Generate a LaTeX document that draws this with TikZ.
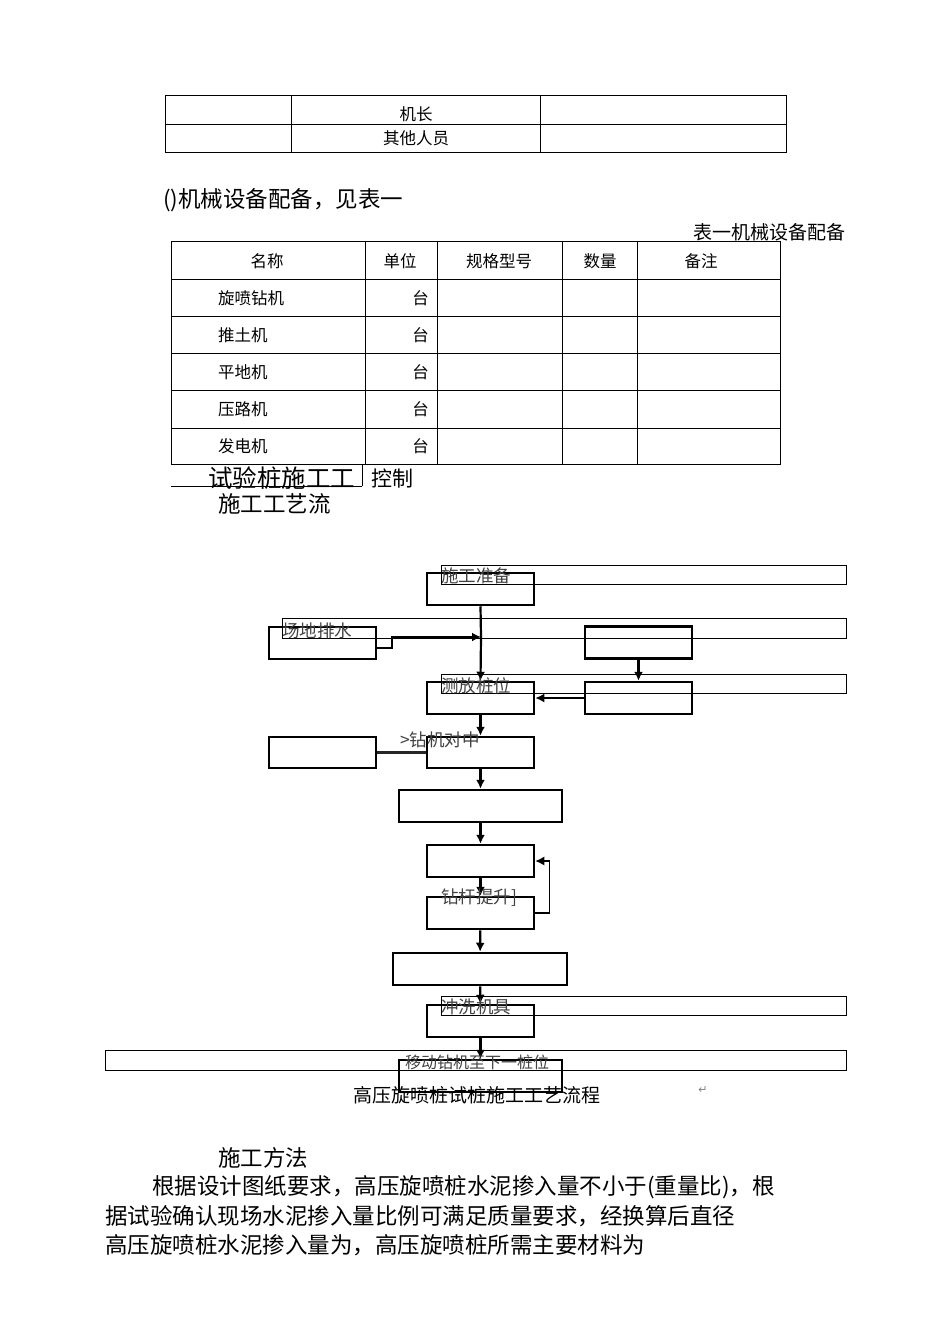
\documentclass[tikz,border=0pt]{standalone}
\usepackage{fontspec}
\usetikzlibrary{arrows.meta}
\setmainfont{Noto Sans CJK SC}
\newfontfamily\dv{DejaVu Sans}
\begin{document}
\begin{tikzpicture}[x=1pt,y=-1pt,
  tb/.style={font=\fontsize{16.5}{16.5}\selectfont,inner sep=0pt},
  big/.style={font=\fontsize{22.5}{22.5}\selectfont,inner sep=0pt,anchor=west},
  fbox/.style={draw,line width=2.5pt,inner sep=0pt},
  ov/.style={draw,line width=1pt,inner sep=0pt},
  lab/.style={font=\fontsize{17.5}{17.5}\selectfont,inner sep=0pt,anchor=west,text=black!75},
  arr/.style={-{Latex[length=9pt,width=9pt]},line width=2.2pt},
  ln/.style={line width=2.2pt}]
\useasboundingbox (0,0) rectangle (950,1344);
% top table
\draw[line width=0.8pt] (165,95) rectangle (786,152) (165,124)--(786,124) (291,95)--(291,152) (540,95)--(540,152);
\node[tb] (t1) at (416,114) {机长};
\node[tb] (t2) at (416,138) {其他人员};
\node[big] (h1) at (163,200) {()机械设备配备，见表一};
\node[tb,anchor=east,font=\fontsize{19}{19}\selectfont] (cap1) at (846,232) {表一机械设备配备};
% table 2
\draw[line width=0.8pt] (171,241) rectangle (780,464);
\foreach \y in {279,316,353,390,428} \draw[line width=0.8pt] (171,\y)--(780,\y);
\foreach \x in {365,437,562,637} \draw[line width=0.8pt] (\x,241)--(\x,464);
\node[tb] (c1) at (267,261) {名称};
\node[tb] (c2) at (400,261) {单位};
\node[tb] (c3) at (499,261) {规格型号};
\node[tb] (c4) at (600,261) {数量};
\node[tb] (c5) at (701,261) {备注};
\foreach \t/\y [count=\i] in {旋喷钻机/298,推土机/335,平地机/372,压路机/409,发电机/446}{
  \node[tb,anchor=west] (r\i) at (218,\y) {\t};
  \node[tb,anchor=east] (u\i) at (429,\y) {台};}
\draw[line width=0.8pt] (171,486)--(362,486) (362,464)--(362,486);
\node[big,font=\fontsize{24.5}{24.5}\selectfont] (s1) at (208,478) {试验桩施工工};
\node[big,font=\fontsize{21}{21}\selectfont] (s2) at (371,478) {控制};
\node[big] (s3) at (218,504) {施工工艺流};
% flowchart boxes
\node[fbox,minimum width=107pt,minimum height=32pt] (b1) at (480.5,589) {};
\node[fbox,minimum width=107pt,minimum height=32pt] (lb1) at (322.5,643) {};
\node[fbox,minimum width=107pt,minimum height=32pt] (rb1) at (638.5,642.5) {};
\node[fbox,minimum width=107pt,minimum height=32pt] (b2) at (480.5,698) {};
\node[fbox,minimum width=107pt,minimum height=32pt] (rb2) at (638.5,698) {};
\node[fbox,minimum width=107pt,minimum height=31pt] (lb2) at (322.5,752.5) {};
\node[fbox,minimum width=107pt,minimum height=31pt] (b3) at (480.5,752.5) {};
\node[fbox,minimum width=163pt,minimum height=32pt] (b4) at (480.5,806) {};
\node[fbox,minimum width=107pt,minimum height=32pt] (b5) at (480.5,861) {};
\node[fbox,minimum width=107pt,minimum height=32pt] (b6) at (480.5,913) {};
\node[fbox,minimum width=174pt,minimum height=32pt] (b7) at (480,969) {};
\node[fbox,minimum width=107pt,minimum height=32pt] (b8) at (480.5,1021) {};
\node[fbox,minimum width=163pt,minimum height=32pt] (b9) at (480.5,1076) {};
% connectors
\coordinate (j1) at (481,637);
\draw[ln] (b1.south)--(j1);
\draw[arr] (j1)--(b2.north);
\draw[arr] (lb1.east |- 0,648) -| (392,637) -- (j1);
\draw[arr] (rb1)--(rb2);
\draw[arr] (rb2)--(b2);
\draw[arr] (b2)--(b3);
\draw[ln,black!85] (lb2)--(b3);
\draw[arr] (b3)--(b4);
\draw[arr] (b4)--(b5);
\draw[arr] (b5)--(b6);
\draw[arr] (b6)--(b7);
\draw[arr] (b7)--(b8);
\draw[arr] (b8)--(b9);
\draw[arr,line width=1.4pt] (b6.east) -- ++(14,0) |- (b5.east);
% overlay label boxes
\node[ov,minimum width=405pt,minimum height=19pt] (o1) at (643.5,574.5) {};
\node[ov,minimum width=564pt,minimum height=20pt] (o2) at (564,628) {};
\node[ov,minimum width=405pt,minimum height=19pt] (o3) at (643.5,683.5) {};
\node[ov,minimum width=405pt,minimum height=19pt] (o4) at (643.5,1005.5) {};
\node[ov,minimum width=741pt,minimum height=20pt] (o5) at (475.5,1060) {};
\node[lab] (l1) at (441,576) {施工准备};
\node[lab] (l2) at (282,631) {场地排水};
\node[lab] (l3) at (441,686) {测放桩位};
\node[lab] (l4) at (400,740) {>钻机对中};
\node[lab] (l5) at (441,898) {钻杆提升]};
\node[lab] (l6) at (441,1007) {冲洗机具};
\node[lab,font=\fontsize{16}{16}\selectfont] (l7) at (405,1062) {移动钻机至下一桩位};
\node[tb,font=\fontsize{19}{19}\selectfont] (cap2) at (477,1095) {高压旋喷桩试桩施工工艺流程};
\node[inner sep=0pt,text=black!50,font=\dv\fontsize{11}{11}\selectfont] (ret) at (703,1090) {↵};
% text
\node[big] (p0) at (218,1158) {施工方法};
\node[big] (p1) at (152,1187) {根据设计图纸要求，高压旋喷桩水泥掺入量不小于(重量比)，根};
\node[big] (p2) at (105,1216) {据试验确认现场水泥掺入量比例可满足质量要求，经换算后直径};
\node[big] (p3) at (105,1245) {高压旋喷桩水泥掺入量为，高压旋喷桩所需主要材料为};
\end{tikzpicture}
\end{document}
